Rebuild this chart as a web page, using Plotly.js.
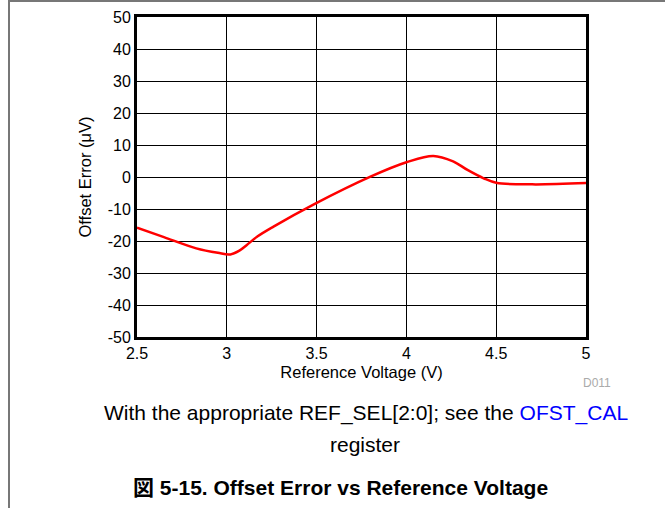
<!DOCTYPE html>
<html>
<head>
<meta charset="utf-8">
<script src="https://cdn.plot.ly/plotly-3.0.1.min.js"></script>
<style>
  body { margin: 0; background: #fff; }
  #frame { position: absolute; left: 8px; top: 0; width: 657px; height: 508px;
           border-left: 2px solid #777; border-top: 2px solid #777; box-sizing: border-box; }
  #chart { position: absolute; left: 0; top: 0; width: 665px; height: 508px; }
</style>
</head>
<body>
<div id="frame"></div>
<div id="chart"></div>
<script>
// Offset error vs reference voltage
var refVoltage = [2.5, 2.65, 2.83, 2.95, 3.02, 3.07, 3.11, 3.17, 3.26, 3.49, 3.8, 4.0, 4.15, 4.26, 4.34, 4.43, 4.5, 4.7, 5.0];
var offsetError = [-15.8, -18.8, -22.3, -23.7, -24.2, -23.0, -21.3, -18.6, -15.5, -8.4, 0.1, 4.6, 6.6, 4.9, 2.2, -0.4, -1.8, -2.3, -1.9];

var xTicks = [2.5, 3, 3.5, 4, 4.5, 5];
var yTicks = [-50, -40, -30, -20, -10, 0, 10, 20, 30, 40, 50];

var font = 'Liberation Sans, Arial, sans-serif';

var data = [{
  x: refVoltage,
  y: offsetError,
  type: 'scatter',
  mode: 'lines',
  line: {color: '#ff0000', width: 2.5, shape: 'spline', smoothing: 1},
  hoverinfo: 'none'
}];

var layout = {
  width: 665,
  height: 508,
  margin: {l: 137, r: 79, t: 17, b: 171},
  paper_bgcolor: 'rgba(0,0,0,0)',
  plot_bgcolor: '#fff',
  showlegend: false,
  font: {family: font, size: 16, color: '#000'},
  xaxis: {
    range: [2.5, 5],
    tickvals: xTicks,
    ticktext: xTicks.map(String),
    showgrid: true,
    gridcolor: '#000',
    gridwidth: 1,
    zeroline: false,
    showline: true,
    linecolor: '#000',
    linewidth: 3,
    mirror: true,
    ticks: '',
    tickfont: {size: 16},
    title: {text: 'Reference Voltage (V)', font: {size: 16.5}, standoff: 6}
  },
  yaxis: {
    range: [-50, 50],
    tickvals: yTicks,
    ticktext: yTicks.map(String),
    showgrid: true,
    gridcolor: '#000',
    gridwidth: 1,
    zeroline: false,
    showline: true,
    linecolor: '#000',
    linewidth: 3,
    mirror: true,
    ticks: '',
    tickfont: {size: 16},
    title: {text: 'Offset Error (μV)', font: {size: 16.5}, standoff: 12}
  },
  annotations: [
    {text: 'D011', xref: 'paper', yref: 'paper', x: (597 - 137) / 449, y: (337 - 383) / 320,
     xanchor: 'center', yanchor: 'middle', showarrow: false, font: {size: 12, color: '#aaaaaa'}},
    {text: 'With the appropriate REF_SEL[2:0]; see the <span style="color:#0000ff">OFST_CAL</span>',
     xref: 'paper', yref: 'paper', x: (365.5 - 137) / 449, y: (337 - 413) / 320,
     xanchor: 'center', yanchor: 'middle', showarrow: false, font: {size: 21, color: '#000'}},
    {text: 'register', xref: 'paper', yref: 'paper', x: (365 - 137) / 449, y: (337 - 444) / 320,
     xanchor: 'center', yanchor: 'middle', showarrow: false, font: {size: 21, color: '#000'}},
    {text: '<b>図 5-15. Offset Error vs Reference Voltage</b>', xref: 'paper', yref: 'paper',
     x: (340 - 137) / 449, y: (337 - 487) / 320, xanchor: 'center', yanchor: 'middle',
     showarrow: false, font: {size: 21, color: '#000', family: 'Liberation Sans, Noto Sans CJK JP, sans-serif'}}
  ]
};

Plotly.newPlot('chart', data, layout, {displayModeBar: false, staticPlot: true});
</script>
</body>
</html>
